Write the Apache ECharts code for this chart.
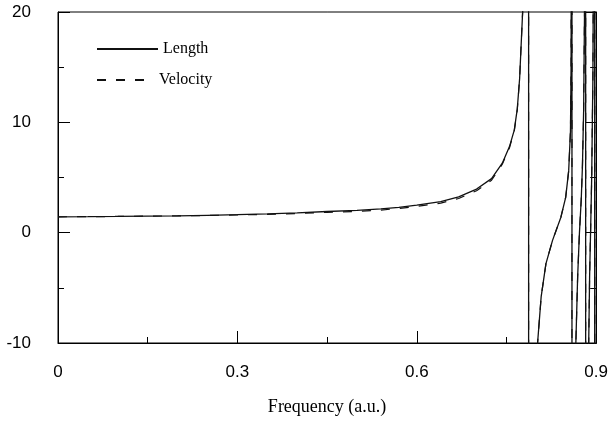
<!DOCTYPE html>
<html>
<head>
<meta charset="utf-8">
<script src="https://cdn.jsdelivr.net/npm/echarts@6/dist/echarts.min.js"></script>
<style>html,body{margin:0;padding:0;background:#fff}#c{width:611px;height:421px}</style>
</head>
<body>
<div id="c"></div>
<script>
// Frequency samples (a.u.)
var freq = [0, 0.05, 0.1, 0.15, 0.2, 0.25, 0.3, 0.35, 0.4, 0.45, 0.5, 0.54, 0.57, 0.6, 0.64, 0.67, 0.7, 0.725, 0.743, 0.755, 0.763, 0.768, 0.772, 0.777, 0.781, 0.787,
  0.787, 0.797, 0.802, 0.808, 0.816, 0.827, 0.841, 0.849, 0.854, 0.857, 0.858, 0.8595, 0.8595,
  0.864, 0.866, 0.869, 0.872, 0.875, 0.877, 0.879, 0.8805, 0.8815, 0.8824, 0.8824,
  0.886, 0.8875, 0.889, 0.891, 0.8925, 0.8935, 0.8945, 0.895, 0.8955, 0.8975, 0.8975, 0.899, 0.9];
var lengthVals = [1.44, 1.45, 1.47, 1.5, 1.52, 1.57, 1.63, 1.7, 1.8, 1.92, 2.02, 2.15, 2.3, 2.5, 2.82, 3.25, 3.95, 4.9, 6.3, 7.8, 9.3, 11.2, 14, 20, 28, 60,
  -60, -18, -10, -5.8, -2.8, -0.7, 1.4, 3.2, 5.6, 9.2, 15, 60, -60,
  -25, -10, -4, 0, 3, 6, 11, 20, 35, 60, -60,
  -25, -10, -4, 1, 5, 9.7, 14, 20, 30, 60, -60, -20, -10];
var velocityVals = [1.44, 1.45, 1.47, 1.5, 1.52, 1.56, 1.61, 1.66, 1.74, 1.84, 1.93, 2.05, 2.2, 2.38, 2.68, 3.1, 3.8, 4.75, 6.2, 7.7, 9.2, 11.1, 14, 20, 28, 60,
  -60, -18, -10, -5.8, -2.8, -0.7, 1.4, 3.2, 5.6, 9.2, 15, 60, -60,
  -25, -10, -4, 0, 3, 6, 11, 20, 35, 60, -60,
  -25, -10, -4, 1, 5, 9.7, 14, 20, 30, 60, -60, -20, -10];
var seriesNames = ['Length', 'Velocity'];
var xName = 'Frequency (a.u.)';

function pairs(ys) { return freq.map(function (x, i) { return [x, ys[i]]; }); }

var chart = echarts.init(document.getElementById('c'), null, { renderer: 'canvas' });
var sans = 'Liberation Sans, Arial, sans-serif';
var serif = 'Liberation Serif, Times New Roman, serif';
var legendBase = {
  orient: 'horizontal', left: 96, padding: 0, itemHeight: 14,
  itemStyle: { opacity: 0 },
  textStyle: { fontFamily: serif, fontSize: 16, color: '#000' }
};
chart.setOption({
  animation: false,
  backgroundColor: '#fff',
  grid: { left: 58, right: 14, top: 12, bottom: 74, show: true, borderColor: '#000', borderWidth: 1 },
  legend: [
    Object.assign({}, legendBase, { data: [seriesNames[0]], top: 41, itemWidth: 61 }),
    Object.assign({}, legendBase, { data: [seriesNames[1]], top: 72, itemWidth: 57 })
  ],
  xAxis: {
    type: 'value', min: 0, max: 0.9, interval: 0.3,
    name: xName, nameLocation: 'middle', nameGap: 55,
    nameTextStyle: { fontFamily: serif, fontSize: 18, color: '#000' },
    axisLine: { onZero: false, lineStyle: { color: '#000', width: 1 } },
    axisTick: { inside: true, length: 12, lineStyle: { color: '#000' } },
    minorTick: { show: true, splitNumber: 2, length: 6, lineStyle: { color: '#000' } },
    splitLine: { show: false },
    axisLabel: { margin: 21, fontFamily: sans, fontSize: 17, color: '#000' }
  },
  yAxis: [
    { type: 'value', min: -10, max: 20, interval: 10,
      axisLine: { show: true, onZero: false, lineStyle: { color: '#000', width: 1 } },
      axisTick: { show: true, inside: true, length: 12, lineStyle: { color: '#000' } },
      minorTick: { show: true, splitNumber: 2, length: 6, lineStyle: { color: '#000' } },
      splitLine: { show: false },
      axisLabel: { margin: 27, fontFamily: sans, fontSize: 17, color: '#000' } },
    { type: 'value', min: -10, max: 20, interval: 10, position: 'right',
      axisLine: { show: true, onZero: false, lineStyle: { color: '#000', width: 1 } },
      axisTick: { show: true, inside: true, length: 11, lineStyle: { color: '#000' } },
      minorTick: { show: true, splitNumber: 2, length: 6, lineStyle: { color: '#000' } },
      splitLine: { show: false },
      axisLabel: { show: false } }
  ],
  series: [
    { name: seriesNames[0], type: 'line', data: pairs(lengthVals), showSymbol: false, symbol: 'none',
      clip: true, lineStyle: { color: '#111', width: 1.3, type: 'solid' }, itemStyle: { color: '#111' } },
    { name: seriesNames[1], type: 'line', data: pairs(velocityVals), showSymbol: false, symbol: 'none',
      clip: true, lineStyle: { color: '#111', width: 1.2, type: [9, 10] }, itemStyle: { color: '#111' } }
  ]
});
</script>
</body>
</html>
